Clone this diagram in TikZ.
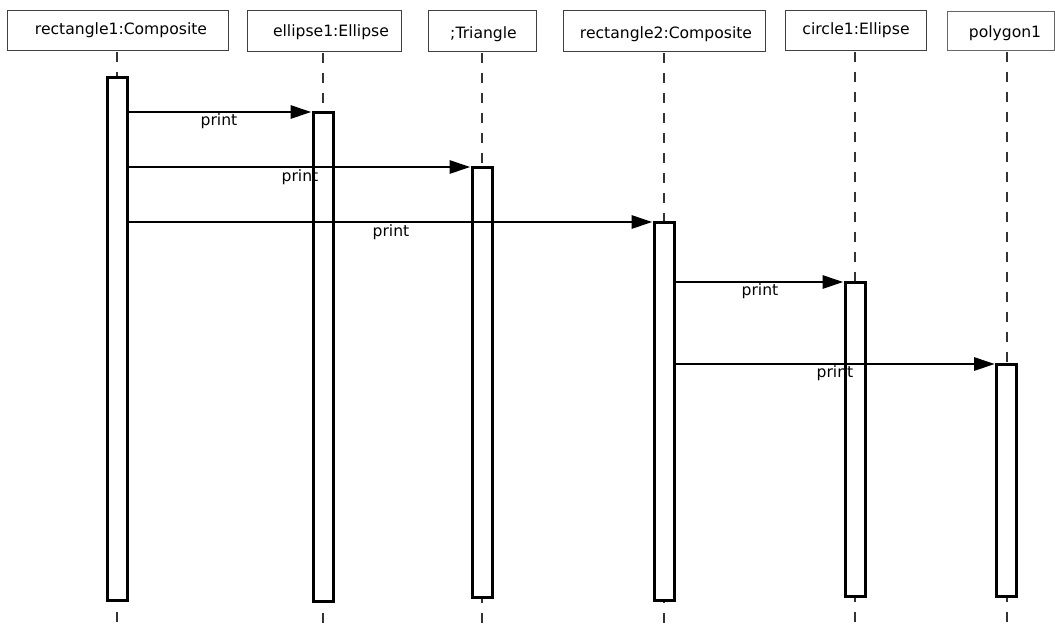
\documentclass[tikz,border=0pt]{standalone}
\usepackage{fontspec}
\setmainfont{DejaVu Sans}
\usetikzlibrary{arrows.meta}

\tikzset{
  hdr/.style={draw=black!75, line width=1pt, fill=white, inner sep=0pt, outer sep=0pt},
  hdrtext/.style={anchor=base, inner sep=0pt, font=\fontsize{15.6}{18}\selectfont},
  life/.style={draw=black!80, line width=1.1pt, dash pattern=on 10pt off 10pt, dash phase=-2pt},
  act/.style={draw=black, line width=3pt, fill=white, minimum width=20pt, inner sep=0pt, outer sep=0pt},
  msg/.style={draw=black, line width=2.9pt, -{Triangle[length=21pt,width=13pt]}, shorten >=1.5pt},
  msglabel/.style={anchor=base, inner sep=0pt, font=\fontsize{15.6}{18}\selectfont}
}

\begin{document}
\begin{tikzpicture}[x=1pt,y=-1pt]
  \useasboundingbox (0,0) rectangle (1055,629);
  \fill[white] (0,0) rectangle (1055,629);

  % object heads
  \node[hdr, minimum width=221pt, minimum height=40pt] (h1) at (117.5,30) {};
  \node[hdr, minimum width=154pt, minimum height=41pt] (h2) at (324,30.5) {};
  \node[hdr, minimum width=108pt, minimum height=41pt] (h3) at (482,30.5) {};
  \node[hdr, minimum width=202pt, minimum height=41pt] (h4) at (664,30.5) {};
  \node[hdr, minimum width=141pt, minimum height=40pt] (h5) at (855.5,30) {};
  \node[hdr, draw=black!60, minimum width=107pt, minimum height=39pt] (h6) at (1000.5,30.5) {};

  \node[hdrtext] (t1) at (121,34.5) {rectangle1:Composite};
  \node[hdrtext] (t2) at (331,36.5) {ellipse1:Ellipse};
  \node[hdrtext] (t3) at (483.5,38.5) {;Triangle};
  \node[hdrtext] (t4) at (666,38) {rectangle2:Composite};
  \node[hdrtext] (t5) at (856,34.5) {circle1:Ellipse};
  \node[hdrtext] (t6) at (1005,37.5) {polygon1};

  % lifeline ends at the foot of the page
  \coordinate (e1) at (117,629);
  \coordinate (e2) at (323,629);
  \coordinate (e3) at (482,629);
  \coordinate (e4) at (664,629);
  \coordinate (e5) at (855,629);
  \coordinate (e6) at (1007,629);

  % lifelines
  \draw[life] (h1.south -| e1) -- (e1);
  \draw[life] (h2.south -| e2) -- (e2);
  \draw[life] (h3.south -| e3) -- (e3);
  \draw[life] (h4.south -| e4) -- (e4);
  \draw[life] (h5.south -| e5) -- (e5);
  \draw[life] (h6.south -| e6) -- (e6);

  % activation bars
  \node[act, minimum height=523pt] (a1) at (117,338.5) {};
  \node[act, minimum height=489pt] (a2) at (323,356.5) {};
  \node[act, minimum height=430pt] (a3) at (482,382) {};
  \node[act, minimum height=378pt] (a4) at (664,411) {};
  \node[act, minimum height=314pt] (a5) at (855,439) {};
  \node[act, minimum height=232pt] (a6) at (1006.5,480) {};

  % messages
  \draw[msg] (a1.east |- a2.north) -- (a2.north west);
  \draw[msg] (a1.east |- a3.north) -- (a3.north west);
  \draw[msg] (a1.east |- a4.north) -- (a4.north west);
  \draw[msg] (a4.east |- a5.north) -- (a5.north west);
  \draw[msg] (a4.east |- a6.north) -- (a6.north west);

  \node[msglabel] (m1) at (219,125) {print};
  \node[msglabel] (m2) at (300,181) {print};
  \node[msglabel] (m3) at (391,236) {print};
  \node[msglabel] (m4) at (760,295) {print};
  \node[msglabel] (m5) at (835,377) {print};
\end{tikzpicture}
\end{document}
